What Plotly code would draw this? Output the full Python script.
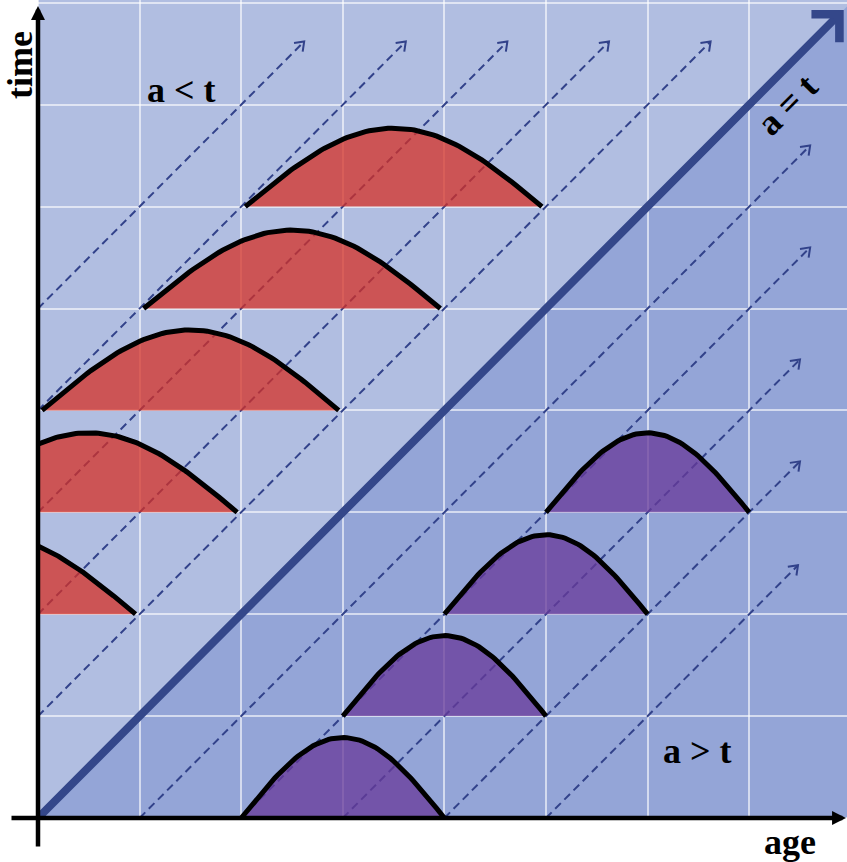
import numpy as np
import plotly.graph_objects as go

# ---------------- data ----------------
# dashed characteristic lines t = a + k (upper, start on the time axis)
upper_offsets = [1, 2, 3, 4, 5]
upper_tip_time = [7.62, 7.62, 7.62, 7.62, 7.62]
# dashed characteristic lines t = a - k (lower, start on the age axis)
lower_offsets = [1, 2, 3, 4, 5]
lower_tip_age = [7.6, 7.6, 7.5, 7.5, 7.48]

# red density bumps (newborn cohorts, region a < t)
red_time = [2, 3, 4, 5, 6]
red_peak_age = [-0.5, 0.5, 1.5, 2.5, 3.5]
red_width = [2.92, 2.92, 2.92, 2.92, 2.92]
red_height = [0.78, 0.78, 0.79, 0.77, 0.77]

# purple density bumps (initial population, region a > t)
purple_time = [0, 1, 2, 3]
purple_peak_age = [3, 4, 5, 6]
purple_width = [2, 2, 2, 2]
purple_height = [0.79, 0.79, 0.78, 0.78]

diag_end = 7.93
SX, SY = 101.6, 101.9
x_min, x_max = -38 / SX, 809 / SX
y_min, y_max = -44 / SY, 818 / SY

LIGHT = "rgb(177,190,225)"
DARK = "rgb(148,165,215)"
DASH_COL = "rgb(50,66,138)"
DIAG_COL = "rgb(52,71,138)"
RED_FILL = "rgba(214,48,38,0.75)"
PURPLE_FILL = "rgba(104,58,154,0.75)"

fig = go.Figure()

# ---------------- dashed lines with open arrowheads ----------------
L = 0.1
for k, tt in zip(upper_offsets, upper_tip_time):
    a_end = tt - k
    fig.add_trace(go.Scatter(x=[0, a_end], y=[k, tt], mode="lines",
                             line=dict(color=DASH_COL, width=2, dash="8px,5px"),
                             hoverinfo="skip", showlegend=False))
    fig.add_trace(go.Scatter(x=[a_end - L, a_end, a_end - 0.015], y=[tt - 0.015, tt, tt - L],
                             mode="lines", line=dict(color=DASH_COL, width=2),
                             hoverinfo="skip", showlegend=False))
for k, ae in zip(lower_offsets, lower_tip_age):
    t_end = ae - k
    fig.add_trace(go.Scatter(x=[k, ae], y=[0, t_end], mode="lines",
                             line=dict(color=DASH_COL, width=2, dash="8px,5px"),
                             hoverinfo="skip", showlegend=False))
    fig.add_trace(go.Scatter(x=[ae - L, ae, ae - 0.015], y=[t_end - 0.015, t_end, t_end - L],
                             mode="lines", line=dict(color=DASH_COL, width=2),
                             hoverinfo="skip", showlegend=False))


# ---------------- bumps ----------------
def bump(t0, c, w, h, fill):
    a0 = max(0.0, c - w / 2)
    a1 = c + w / 2
    a = np.linspace(a0, a1, 80)
    y = t0 + h * np.cos(np.pi * (a - c) / w)
    fig.add_trace(go.Scatter(x=list(a) + [a1, a0], y=list(y) + [t0, t0],
                             fill="toself", fillcolor=fill, mode="lines",
                             line=dict(width=0), hoverinfo="skip", showlegend=False))
    fig.add_trace(go.Scatter(x=a, y=y, mode="lines",
                             line=dict(color="black", width=5),
                             hoverinfo="skip", showlegend=False))


for t0, c, w, h in zip(red_time, red_peak_age, red_width, red_height):
    bump(t0, c, w, h, RED_FILL)
for t0, c, w, h in zip(purple_time, purple_peak_age, purple_width, purple_height):
    bump(t0, c, w, h, PURPLE_FILL)

# ---------------- background regions ----------------
shapes = [
    dict(type="rect", xref="x", yref="y", x0=0, y0=0, x1=x_max, y1=y_max,
         fillcolor=LIGHT, line=dict(width=0), layer="below"),
    dict(type="path", xref="x", yref="y",
         path=f"M 0 0 L {x_max} {x_max} L {x_max} 0 Z",
         fillcolor=DARK, line=dict(width=0), layer="below"),
]

annotations = [
    # a = t diagonal
    dict(x=diag_end, y=diag_end, ax=0, ay=0, xref="x", yref="y", axref="x", ayref="y",
         showarrow=True, arrowhead=4, arrowsize=0.95, arrowwidth=8, arrowcolor=DIAG_COL,
         standoff=0, startstandoff=0, text=""),
    # axes
    dict(x=0, y=(818 - 6) / SY, ax=0, ay=(818 - 848) / SY, xref="x", yref="y",
         axref="x", ayref="y", showarrow=True, arrowhead=2, arrowsize=0.62, arrowwidth=4.5,
         arrowcolor="black", standoff=0, text=""),
    dict(x=(846 - 38) / SX, y=0, ax=(10 - 38) / SX, ay=0, xref="x", yref="y",
         axref="x", ayref="y", showarrow=True, arrowhead=2, arrowsize=0.62, arrowwidth=4.5,
         arrowcolor="black", standoff=0, text=""),
]

FONT = dict(family="Liberation Serif, Times New Roman, serif", size=36, color="black")


def label(text, px, py, angle=0):
    annotations.append(dict(x=(px - 38) / SX, y=(818 - py) / SY, xref="x", yref="y",
                            text=f"<b>{text}</b>", showarrow=False, textangle=angle,
                            font=FONT, xanchor="center", yanchor="middle"))


label("a &lt; t", 181, 90)
label("a &gt; t", 697, 751)
label("age", 790, 842)
label("time", 20, 65, -90)
label("a = t", 787, 105, -45)

fig.update_layout(
    width=847, height=862, autosize=False,
    margin=dict(l=0, r=0, t=0, b=0, pad=0),
    paper_bgcolor="white", plot_bgcolor="white",
    shapes=shapes, annotations=annotations,
    xaxis=dict(range=[x_min, x_max], showgrid=True, gridcolor="rgba(255,255,255,0.6)",
               gridwidth=1.5, tick0=0, dtick=1, zeroline=False, showticklabels=False,
               ticks="", showline=False, fixedrange=True),
    yaxis=dict(range=[y_min, y_max], showgrid=True, gridcolor="rgba(255,255,255,0.6)",
               gridwidth=1.5, tick0=0, dtick=1, zeroline=False, showticklabels=False,
               ticks="", showline=False, fixedrange=True),
    showlegend=False,
)

fig.write_html("out.html", config={"displayModeBar": False},
               post_script="document.body.style.margin='0px';document.body.style.overflow='hidden';")
